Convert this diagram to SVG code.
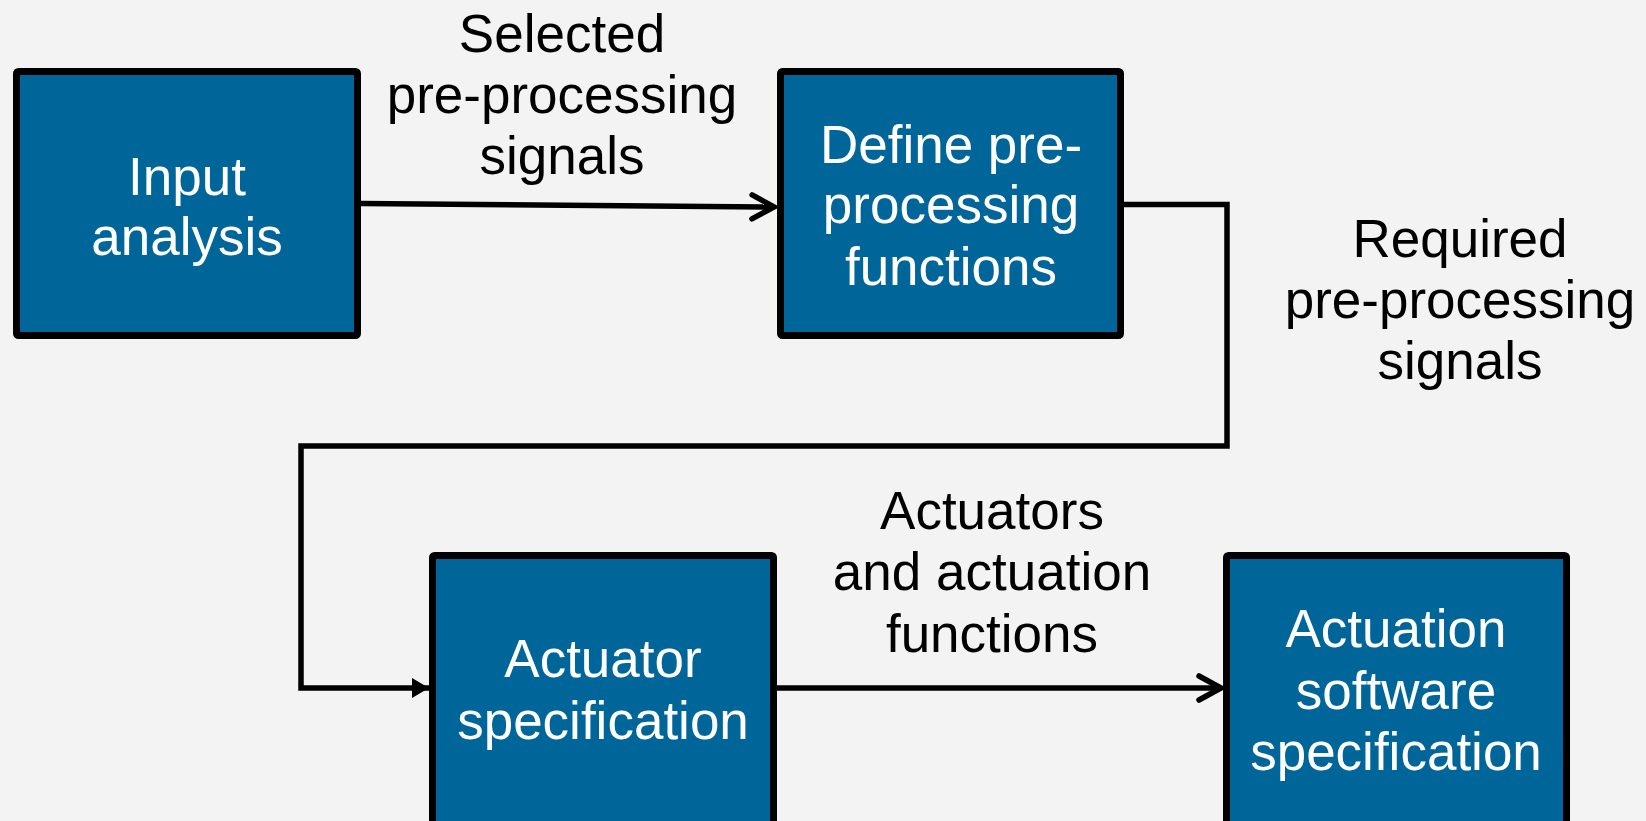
<svg xmlns="http://www.w3.org/2000/svg" width="1646" height="821" viewBox="0 0 1646 821">
<defs>
<style>
.box{fill:#006699;stroke:#000;stroke-width:7;}
.nt{font-family:"Liberation Sans",Arial,sans-serif;font-size:53px;fill:#fff;text-anchor:middle;}
.lt{font-family:"Liberation Sans",Arial,sans-serif;font-size:53px;fill:#000;text-anchor:middle;}
.conn{fill:none;stroke:#000;stroke-width:5.5;}
</style>
<marker id="open" markerUnits="userSpaceOnUse" viewBox="-26 -16 30 32" refX="0" refY="0" markerWidth="30" markerHeight="32" orient="auto">
<path d="M-22,-12 L0,0 L-22,12" fill="none" stroke="#000" stroke-width="5.5" stroke-linecap="round" stroke-linejoin="miter"/>
</marker>
<marker id="tri" markerUnits="userSpaceOnUse" viewBox="-20 -12 22 24" refX="0" refY="0" markerWidth="22" markerHeight="24" orient="auto">
<path d="M-17,-10 L0,0 L-17,10 Z" fill="#000"/>
</marker>
</defs>
<rect width="1646" height="821" fill="#f3f3f3"/>
<g id="connectors">
<path class="conn" d="M361,203.5 L774,207" marker-end="url(#open)"/>
<path class="conn" d="M1124,204.5 L1227,204.5 L1227,446 L301,446 L301,688 L429,688" stroke-linejoin="miter" marker-end="url(#tri)"/>
<path class="conn" d="M777,688 L1221,688" marker-end="url(#open)"/>
</g>
<g id="label-selected">
<text class="lt" x="562" y="52">Selected</text>
<text class="lt" x="562" y="113">pre-processing</text>
<text class="lt" x="562" y="174">signals</text>
</g>
<g id="label-required">
<text class="lt" x="1460" y="257">Required</text>
<text class="lt" x="1460" y="318">pre-processing</text>
<text class="lt" x="1460" y="379">signals</text>
</g>
<g id="label-actuators">
<text class="lt" x="992" y="529">Actuators</text>
<text class="lt" x="992" y="590">and actuation</text>
<text class="lt" x="992" y="652">functions</text>
</g>
<g id="node-input">
<rect class="box" x="16.5" y="71.5" width="341" height="264" rx="2"/>
<text class="nt" x="187" y="195">Input</text>
<text class="nt" x="187" y="255">analysis</text>
</g>
<g id="node-define">
<rect class="box" x="780.5" y="71.5" width="340" height="264" rx="2"/>
<text class="nt" x="951" y="163">Define pre-</text>
<text class="nt" x="951" y="223">processing</text>
<text class="nt" x="951" y="285">functions</text>
</g>
<g id="node-actuator">
<rect class="box" x="432.5" y="555.5" width="341" height="275" rx="2"/>
<text class="nt" x="603" y="677">Actuator</text>
<text class="nt" x="603" y="739">specification</text>
</g>
<g id="node-software">
<rect class="box" x="1226.5" y="555.5" width="340" height="275" rx="2"/>
<text class="nt" x="1396" y="647">Actuation</text>
<text class="nt" x="1396" y="709">software</text>
<text class="nt" x="1396" y="770">specification</text>
</g>
</svg>
